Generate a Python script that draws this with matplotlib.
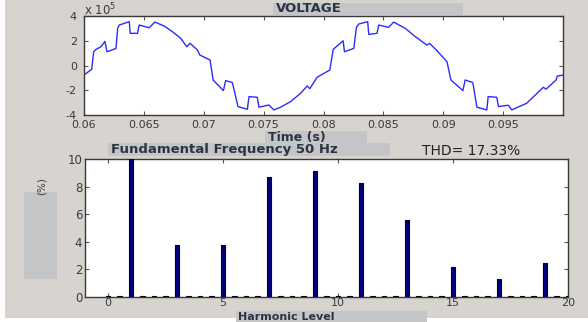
import numpy as np
import matplotlib
matplotlib.use("Agg")
import matplotlib.pyplot as plt
from matplotlib.patches import Rectangle
from matplotlib.ticker import FuncFormatter

# inverter output voltage, two cycles of 50 Hz (V, in units of 1e5)
time_s = [0.0600, 0.06011, 0.06064, 0.06081, 0.0610, 0.06142, 0.06175, 0.06192,
          0.06267, 0.06281, 0.06294, 0.06378, 0.06386, 0.06447, 0.06461, 0.06544,
          0.06592, 0.06669, 0.06739, 0.06808, 0.06858, 0.06886, 0.06947, 0.06967,
          0.07053, 0.07078, 0.07164, 0.07183, 0.07239, 0.07286, 0.07364, 0.07378,
          0.07447, 0.07461, 0.07544, 0.07586, 0.07642, 0.07725, 0.07808, 0.07864,
          0.07886, 0.07947, 0.08053, 0.08081, 0.08164, 0.08175, 0.08253, 0.08275,
          0.08294, 0.08369, 0.08378, 0.08447, 0.08461, 0.08544, 0.08586, 0.08683,
          0.08767, 0.08864, 0.08886, 0.08942, 0.09031, 0.09064, 0.09164, 0.09183,
          0.09247, 0.09281, 0.09364, 0.09375, 0.09447, 0.09461, 0.09544, 0.09572,
          0.09697, 0.09836, 0.09858, 0.09942, 0.09953, 0.09997]
voltage_e5 = [-0.75, -0.69, -0.31, 1.11, 1.30, 1.52, 1.95, 1.11,
              1.38, 3.00, 3.27, 3.54, 2.60, 2.60, 3.27, 3.05,
              3.51, 3.19, 2.73, 2.19, 1.52, 1.79, 1.25, 0.85,
              0.44, -1.17, -2.03, -1.22, -1.38, -3.32, -3.54, -2.51,
              -2.57, -3.37, -3.19, -3.59, -3.37, -2.92, -2.25, -1.65,
              -1.87, -0.95, -0.36, 1.30, 2.00, 1.11, 1.38, 3.08,
              3.35, 3.54, 2.51, 2.60, 3.27, 3.08, 3.51, 3.00,
              2.33, 1.65, 1.79, 1.25, 0.31, -1.17, -2.03, -1.17,
              -1.38, -3.37, -3.59, -2.51, -2.57, -3.32, -3.21, -3.59,
              -3.05, -1.76, -1.92, -1.17, -0.85, -0.79]

# FFT bins in half-harmonic steps (fundamental = 100 %)
harmonic_order = np.arange(0, 20.5, 0.5)
harmonic_pct = [0.08, 0.08, 100, 0.08, 0.08, 0.08, 3.74, 0.08, 0.08, 0.08,
                3.74, 0.08, 0.08, 0.08, 8.69, 0.08, 0.08, 0.08, 9.10, 0.08,
                0.08, 0.08, 8.25, 0.08, 0.08, 0.08, 5.58, 0.08, 0.08, 0.08,
                2.14, 0.08, 0.08, 0.08, 1.34, 0.08, 0.08, 0.08, 2.43, 0.08, 0.08]

fund_freq = 50
thd = 17.33

W, H = 588, 322
BG = "#d7d4cf"
BOX = "#c4c5c7"
LABEL = "#2c3444"
TICK = "#3a3a3a"


def fx(x):
    return x / W


def fy(y):
    return 1 - y / H


def label_box(fig, x0, y0, x1, y1, text, tx, ty=None, size=9.5):
    fig.patches.append(Rectangle((fx(x0), fy(y1)), fx(x1 - x0), (y1 - y0) / H,
                                 transform=fig.transFigure, facecolor=BOX,
                                 edgecolor="none", zorder=0))
    if ty is None:
        ty = (y0 + y1) / 2
    fig.text(fx(tx), fy(ty), text, ha="left", va="center",
             fontsize=size, fontweight="bold", color=LABEL)


def style_axes(ax, size):
    ax.set_facecolor("white")
    for s in ax.spines.values():
        s.set_color("#3a3a3a")
        s.set_linewidth(1.0)
    ax.tick_params(direction="in", length=3, width=0.8, top=True, right=True,
                   labelsize=size, labelcolor=TICK, color="#555555", pad=2)


fig = plt.figure(figsize=(W / 100, H / 100), dpi=100, facecolor="white")
fig.patches.append(Rectangle((fx(5), fy(318)), fx(W - 5), 318 / H,
                             transform=fig.transFigure, facecolor=BG,
                             edgecolor="none", zorder=-1))

# voltage waveform
ax1 = fig.add_axes([fx(84), fy(115), fx(563 - 84), (115 - 16) / H])
style_axes(ax1, 8)
ax1.plot(time_s, np.array(voltage_e5) * 1e5, color="#2b2bff", lw=1.0)
ax1.set_xlim(0.06, 0.1)
ax1.set_ylim(-4e5, 4e5)
ax1.set_xticks([0.06, 0.065, 0.07, 0.075, 0.08, 0.085, 0.09, 0.095])
ax1.set_yticks([-4e5, -2e5, 0, 2e5, 4e5])
ax1.xaxis.set_major_formatter(FuncFormatter(lambda v, p: "%g" % round(v, 4)))
ax1.yaxis.set_major_formatter(FuncFormatter(lambda v, p: "%g" % (v / 1e5)))
ax1.tick_params(axis="y", pad=5)
ax1.tick_params(axis="x", pad=3.5)
fig.text(fx(84), fy(10), r"x 10$^5$", fontsize=8.5, color=TICK, ha="left", va="center")

# harmonic spectrum
ax2 = fig.add_axes([fx(85), fy(297), fx(568 - 85), (297 - 159) / H])
style_axes(ax2, 8.5)
ax2.bar(harmonic_order, harmonic_pct, width=0.2, color="#000080",
        edgecolor="black", linewidth=0.8, zorder=3)
ax2.set_xlim(-1, 20)
ax2.set_ylim(0, 10)
ax2.set_xticks([0, 5, 10, 15, 20])
ax2.set_yticks([0, 2, 4, 6, 8, 10])
ax2.tick_params(axis="x", pad=1, labelsize=8)

label_box(fig, 273, 3, 463, 15, "VOLTAGE", 276)
label_box(fig, 265, 131, 367, 143, "Time (s)", 268, ty=137.5, size=9)
label_box(fig, 108, 143, 390, 156, "Fundamental Frequency %d Hz" % fund_freq, 111)
label_box(fig, 236, 311, 427, 323, "Harmonic Level", 238, ty=316.5, size=8)
fig.patches.append(Rectangle((fx(24), fy(279)), fx(33), 87 / H,
                             transform=fig.transFigure, facecolor=BOX,
                             edgecolor="none", zorder=0))
fig.text(fx(42), fy(186), "(%)", rotation=90, ha="center", va="center",
         fontsize=7.5, color=TICK)
fig.text(fx(422), fy(151), "THD= %.2f%%" % thd, ha="left", va="center",
         fontsize=10, color="#222222")

fig.savefig("out.png", dpi=100, facecolor=fig.get_facecolor())
